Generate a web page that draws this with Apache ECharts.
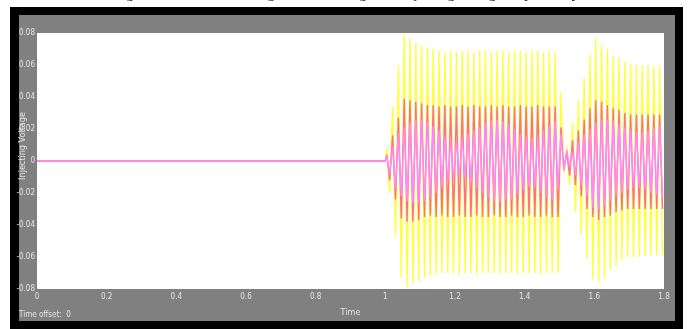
<!DOCTYPE html>
<html>
<head>
<meta charset="utf-8">
<script src="https://cdn.jsdelivr.net/npm/echarts@6/dist/echarts.min.js"></script>
<style>
  html, body { margin: 0; padding: 0; background: #fff; }
  #chart { width: 693px; height: 329px; }
</style>
</head>
<body>
<div id="chart"></div>
<script>
// scope settings
const xTicks = [0, 0.2, 0.4, 0.6, 0.8, 1, 1.2, 1.4, 1.6, 1.8];
const yTicks = [-0.08, -0.06, -0.04, -0.02, 0, 0.02, 0.04, 0.06, 0.08];
const faultStart = 1.0;   // oscillation starts here
const freq = 60;          // one peak + one trough per cycle

// peak (top) and trough (bottom) of every cycle after t = 1, one value per cycle
const yellowTop = [0.008, 0.034, 0.060, 0.079, 0.077, 0.074, 0.072, 0.071, 0.070, 0.069,
  0.068, 0.069, 0.068, 0.069, 0.069, 0.068, 0.069, 0.069, 0.068, 0.069,
  0.069, 0.068, 0.069, 0.069, 0.068, 0.069, 0.069, 0.068, 0.069, 0.068,
  0.043, 0.009, 0.024, 0.038, 0.052, 0.067, 0.077, 0.073, 0.070, 0.066,
  0.065, 0.062, 0.061, 0.060, 0.060, 0.060, 0.059, 0.059];
const yellowBot = [-0.020, -0.047, -0.073, -0.079, -0.077, -0.075, -0.073, -0.072, -0.071, -0.070,
  -0.070, -0.070, -0.071, -0.070, -0.070, -0.071, -0.070, -0.070, -0.070, -0.071,
  -0.070, -0.070, -0.071, -0.070, -0.070, -0.070, -0.071, -0.070, -0.070, -0.070,
  -0.008, -0.015, -0.032, -0.046, -0.061, -0.074, -0.076, -0.073, -0.068, -0.066,
  -0.062, -0.060, -0.060, -0.060, -0.059, -0.059, -0.059, -0.059];

const redTop = [0.004, 0.016, 0.027, 0.039, 0.038, 0.037, 0.036, 0.035, 0.035, 0.034,
  0.035, 0.034, 0.034, 0.035, 0.034, 0.035, 0.034, 0.034, 0.035, 0.034,
  0.035, 0.034, 0.034, 0.035, 0.034, 0.034, 0.035, 0.034, 0.034, 0.034,
  0.021, 0.005, 0.013, 0.019, 0.026, 0.033, 0.038, 0.037, 0.035, 0.033,
  0.032, 0.030, 0.029, 0.029, 0.029, 0.029, 0.029, 0.029];
const redBot = [-0.012, -0.024, -0.036, -0.038, -0.038, -0.037, -0.035, -0.034, -0.035, -0.034,
  -0.035, -0.035, -0.034, -0.035, -0.035, -0.034, -0.035, -0.035, -0.034, -0.035,
  -0.035, -0.034, -0.035, -0.035, -0.034, -0.035, -0.035, -0.034, -0.035, -0.035,
  -0.005, -0.009, -0.015, -0.022, -0.030, -0.035, -0.037, -0.035, -0.034, -0.032,
  -0.031, -0.030, -0.030, -0.030, -0.030, -0.030, -0.030, -0.030];

const magentaTop = [0.003, 0.009, 0.017, 0.021, 0.024, 0.026, 0.026, 0.024, 0.022, 0.019,
  0.015, 0.012, 0.012, 0.014, 0.017, 0.019, 0.021, 0.024, 0.025, 0.026,
  0.025, 0.023, 0.020, 0.017, 0.015, 0.014, 0.015, 0.019, 0.022, 0.025,
  0.017, 0.007, 0.006, 0.012, 0.017, 0.020, 0.024, 0.026, 0.026, 0.025,
  0.023, 0.021, 0.019, 0.018, 0.018, 0.019, 0.021, 0.022];
const magentaBot = [-0.008, -0.017, -0.022, -0.025, -0.026, -0.026, -0.025, -0.023, -0.020, -0.016,
  -0.013, -0.011, -0.009, -0.010, -0.013, -0.017, -0.020, -0.023, -0.026, -0.026,
  -0.025, -0.024, -0.021, -0.018, -0.016, -0.016, -0.020, -0.023, -0.024, -0.018,
  -0.006, -0.004, -0.009, -0.015, -0.022, -0.029, -0.030, -0.028, -0.025, -0.022,
  -0.020, -0.018, -0.017, -0.017, -0.018, -0.020, -0.021, -0.022];

// flat line before the start, then top/bottom of each cycle
function buildSeries(top, bot) {
  let pts = [[0, 0], [faultStart, 0]];
  for (let k = 0; k < top.length; k++) {
    pts.push([faultStart + (k + 0.25) / freq, top[k]]);
    pts.push([faultStart + (k + 0.75) / freq, bot[k]]);
  }
  return pts;
}

const labelFont = "'Liberation Sans Narrow', 'DejaVu Sans Condensed', sans-serif";
const labelColor = '#e4e4e4';

function lineSeries(name, color, top, bot) {
  return {
    name: name,
    type: 'line',
    showSymbol: false,
    smooth: false,
    lineStyle: { width: 1.4, color: color },
    itemStyle: { color: color },
    data: buildSeries(top, bot)
  };
}

const chart = echarts.init(document.getElementById('chart'));
chart.setOption({
  animation: false,
  backgroundColor: '#ffffff',
  graphic: [
    { type: 'text', left: 'center', top: -13,
      style: { text: 'Fig. 9  Waveforms of the generated voltage and injecting voltage respectively',
        font: '15px "Liberation Serif", serif', fill: '#000' } },
    { type: 'rect', shape: { x: 10, y: 7, width: 673, height: 322 }, style: { fill: '#000' }, z: -10 },
    { type: 'rect', shape: { x: 19, y: 15, width: 656, height: 306 }, style: { fill: '#808080' }, z: -9 },
    { type: 'text', x: 19, y: 311,
      style: { text: 'Time offset:  0', font: '8px ' + labelFont, fill: labelColor } },
    { type: 'text', x: 23, y: 146, rotation: Math.PI / 2, z: 10,
      style: { text: 'Injecting Voltage', font: '9px ' + labelFont, fill: labelColor,
        align: 'center', verticalAlign: 'middle' } }
  ],
  grid: {
    left: 37, top: 33, width: 627, height: 256,
    outerBoundsMode: 'none', containLabel: false,
    show: true, backgroundColor: '#ffffff', borderWidth: 0
  },
  xAxis: {
    type: 'value',
    min: xTicks[0], max: xTicks[xTicks.length - 1], interval: 0.2,
    name: 'Time', nameLocation: 'middle', nameGap: 19,
    nameTextStyle: { color: labelColor, fontSize: 9, fontFamily: labelFont },
    axisLine: { show: false }, axisTick: { show: false }, splitLine: { show: false },
    axisLabel: { color: labelColor, fontSize: 8, fontFamily: labelFont, margin: 4,
      formatter: v => String(+v.toFixed(1)) }
  },
  yAxis: {
    type: 'value',
    min: yTicks[0], max: yTicks[yTicks.length - 1], interval: 0.02,
    axisLine: { show: false }, axisTick: { show: false }, splitLine: { show: false },
    axisLabel: { color: labelColor, fontSize: 8, fontFamily: labelFont, margin: 2,
      formatter: v => String(+v.toFixed(2)) }
  },
  series: [
    lineSeries('yellow', '#ffff40', yellowTop, yellowBot),
    lineSeries('red', '#ff7080', redTop, redBot),
    lineSeries('magenta', '#ff88ff', magentaTop, magentaBot)
  ]
});
</script>
</body>
</html>
